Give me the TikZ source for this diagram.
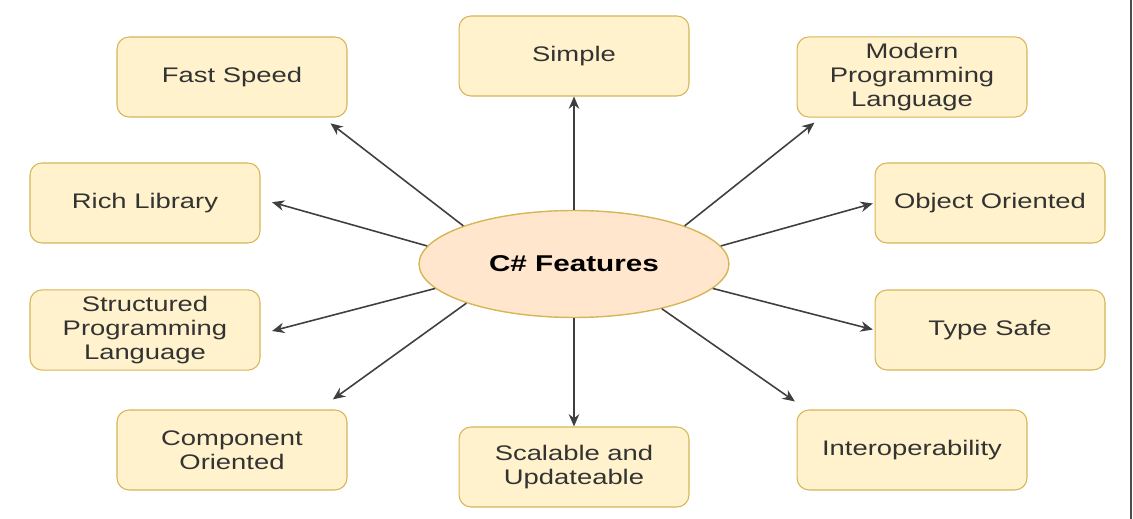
\documentclass[tikz,border=0pt]{standalone}
\usepackage{fontspec}
\setmainfont{Liberation Sans}[FakeStretch=1.3]
\usetikzlibrary{arrows.meta, shapes.geometric}
\definecolor{boxfill}{HTML}{FFF2CC}
\definecolor{boxline}{HTML}{D6B656}
\definecolor{ovalfill}{HTML}{FFE6CC}
\definecolor{arrowgray}{HTML}{3F3F3F}
\definecolor{textgray}{HTML}{333333}

\begin{document}
\begin{tikzpicture}[x=0.02cm, y=-0.02cm,
    feature/.style={draw=boxline, fill=boxfill, rounded corners=0.24cm,
        minimum width=4.6cm, minimum height=1.6cm, align=center, text=textgray,
        font=\fontsize{12}{13.9}\selectfont, line width=0.6pt},
    hub/.style={ellipse, draw=boxline, fill=ovalfill, minimum width=6.2cm,
        minimum height=2.14cm, font=\fontsize{13}{15}\selectfont\bfseries,
        line width=0.8pt},
    link/.style={draw=arrowgray, line width=0.9pt, -{Stealth[length=7pt, width=6pt]}}]
    \useasboundingbox (0,0) rectangle (1133,519);

    % centre
    \node[hub] (feat) at (574,264) {C\# Features};

    % features round it
    \node[feature] (simple)   at (574,56)  {Simple};
    \node[feature] (fast)     at (232,77)  {Fast Speed};
    \node[feature] (modern)   at (912,77)  {Modern\\Programming\\Language};
    \node[feature] (rich)     at (145,203) {Rich Library};
    \node[feature] (object)   at (990,203) {Object Oriented};
    \node[feature] (struct)   at (145,330) {Structured\\Programming\\Language};
    \node[feature] (typesafe) at (990,330) {Type Safe};
    \node[feature] (comp)     at (232,450) {Component\\Oriented};
    \node[feature] (scal)     at (574,467) {Scalable and\\Updateable};
    \node[feature] (interop)  at (912,450) {Interoperability};

    % arrows
    \draw[link] (feat.north) -- (simple.south);
    \draw[link] (feat.south) -- (scal.north);
    \draw[link, shorten >=5.4pt] (feat.161) -- (fast.-24);
    \draw[link, shorten >=4.6pt] (feat.19) -- (modern.-156);
    \draw[link, shorten >=6.8pt] (feat.173) -- (rich.2);
    \draw[link, shorten >=1pt] (feat.7) -- (object.west);
    \draw[link, shorten >=6.8pt] (feat.190) -- (struct.-2);
    \draw[link, shorten >=1pt] (feat.-10) -- (typesafe.west);
    \draw[link, shorten >=9.8pt] (feat.200) -- (comp.25);
    \draw[link, shorten >=8pt] (feat.-27) -- (interop.159);

    % right edge
    \draw[draw=black!70, line width=1pt] (1131,0) -- (1131,519);
\end{tikzpicture}
\end{document}
